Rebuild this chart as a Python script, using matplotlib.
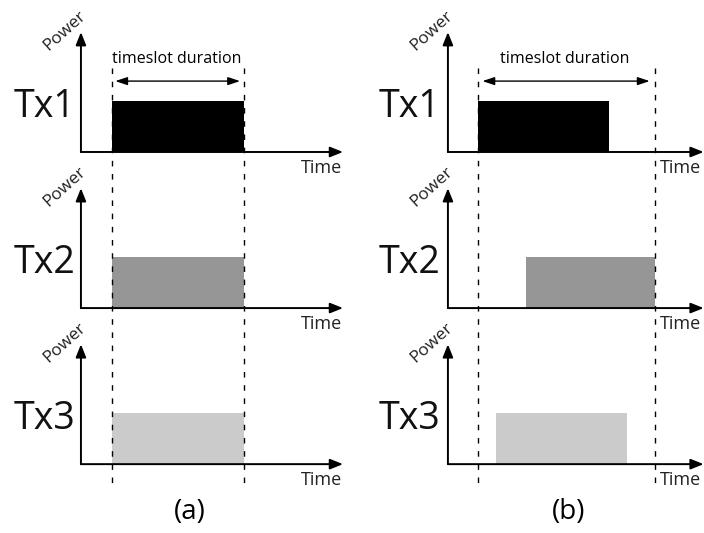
import matplotlib
matplotlib.use('Agg')
import matplotlib.pyplot as plt

plt.rcParams['font.family'] = ['Open Sans', 'DejaVu Sans']

# --- Data: transmissions in timeslot units (slot runs 0..1) ---
transmitters = ['Tx1', 'Tx2', 'Tx3']
bar_colors = ['#000000', '#969696', '#cbcbcb']
power = [1.0, 1.0, 1.0]
start_a = [0.0, 0.0, 0.0]
end_a = [1.0, 1.0, 1.0]
start_b = [0.0, 0.27, 0.10]
end_b = [0.74, 1.0, 0.84]
panel_labels = ['(a)', '(b)']
slot_text = 'timeslot duration'

# --- Layout ---
row_gap = 3.06          # vertical distance between the three time axes
fig = plt.figure(figsize=(7.04, 5.33), dpi=100)

panels = [
    # starts, ends, xlim, y-axis x, x-axis end, Tx label x, Time x, Time ha, label x, px per unit
    (start_a, end_a, (-0.848, 1.818), -0.235, 1.75, -0.28, 1.74, 'right', 0.59, 132),
    (start_b, end_b, (-0.712, 1.277), -0.17, 1.275, -0.21, 1.028, 'left', 0.51, 177),
]

arrow_kw = dict(arrowstyle='-|>,head_length=0.55,head_width=0.22', lw=1.4,
                color='black', mutation_scale=14, shrinkA=0, shrinkB=0)

for col, (starts, ends, xlim, yax, xend, txx, timex, time_ha, labx, ppu) in enumerate(panels):
    ax = fig.add_axes([0.5 * col, 0, 0.5, 1])
    ax.set_xlim(*xlim)
    ax.set_ylim(-7.47, 2.98)
    ax.axis('off')

    for i, name in enumerate(transmitters):
        base = -i * row_gap
        ax.bar(starts[i], power[i], width=ends[i] - starts[i], bottom=base,
               align='edge', color=bar_colors[i], zorder=2)
        # axes with arrows
        ax.annotate('', xy=(xend, base), xytext=(yax, base), arrowprops=arrow_kw,
                    annotation_clip=False)
        ax.annotate('', xy=(yax, base + 2.35), xytext=(yax, base), arrowprops=arrow_kw,
                    annotation_clip=False)
        ax.text(yax - 16 / ppu, base + 2.38, 'Power',
                rotation=42, ha='center', va='center', fontsize=12.5, color='#222222')
        ax.text(timex, base - 0.32, 'Time', ha=time_ha, va='center', fontsize=13,
                color='#222222')
        ax.text(txx, base + 0.88, name, ha='right', va='center', fontsize=27,
                color='#111111')

    # timeslot boundaries
    for x in (0.0, 1.0):
        ax.plot([x, x], [1.65, -6.49], color='black', lw=1.0,
                dashes=(4, 5.5), zorder=3)

    # timeslot duration arrow
    ax.annotate('', xy=(0.97, 1.39), xytext=(0.025, 1.39),
                arrowprops=dict(arrowstyle='<|-|>,head_length=0.6,head_width=0.2',
                                lw=1.0, color='black', mutation_scale=12,
                                shrinkA=0, shrinkB=0))
    ax.text(0.49, 1.82, slot_text, ha='center', va='center', fontsize=11.5)

    ax.text(labx, -7.06, panel_labels[col], ha='center', va='center', fontsize=20)

fig.savefig('out.png', dpi=100)
